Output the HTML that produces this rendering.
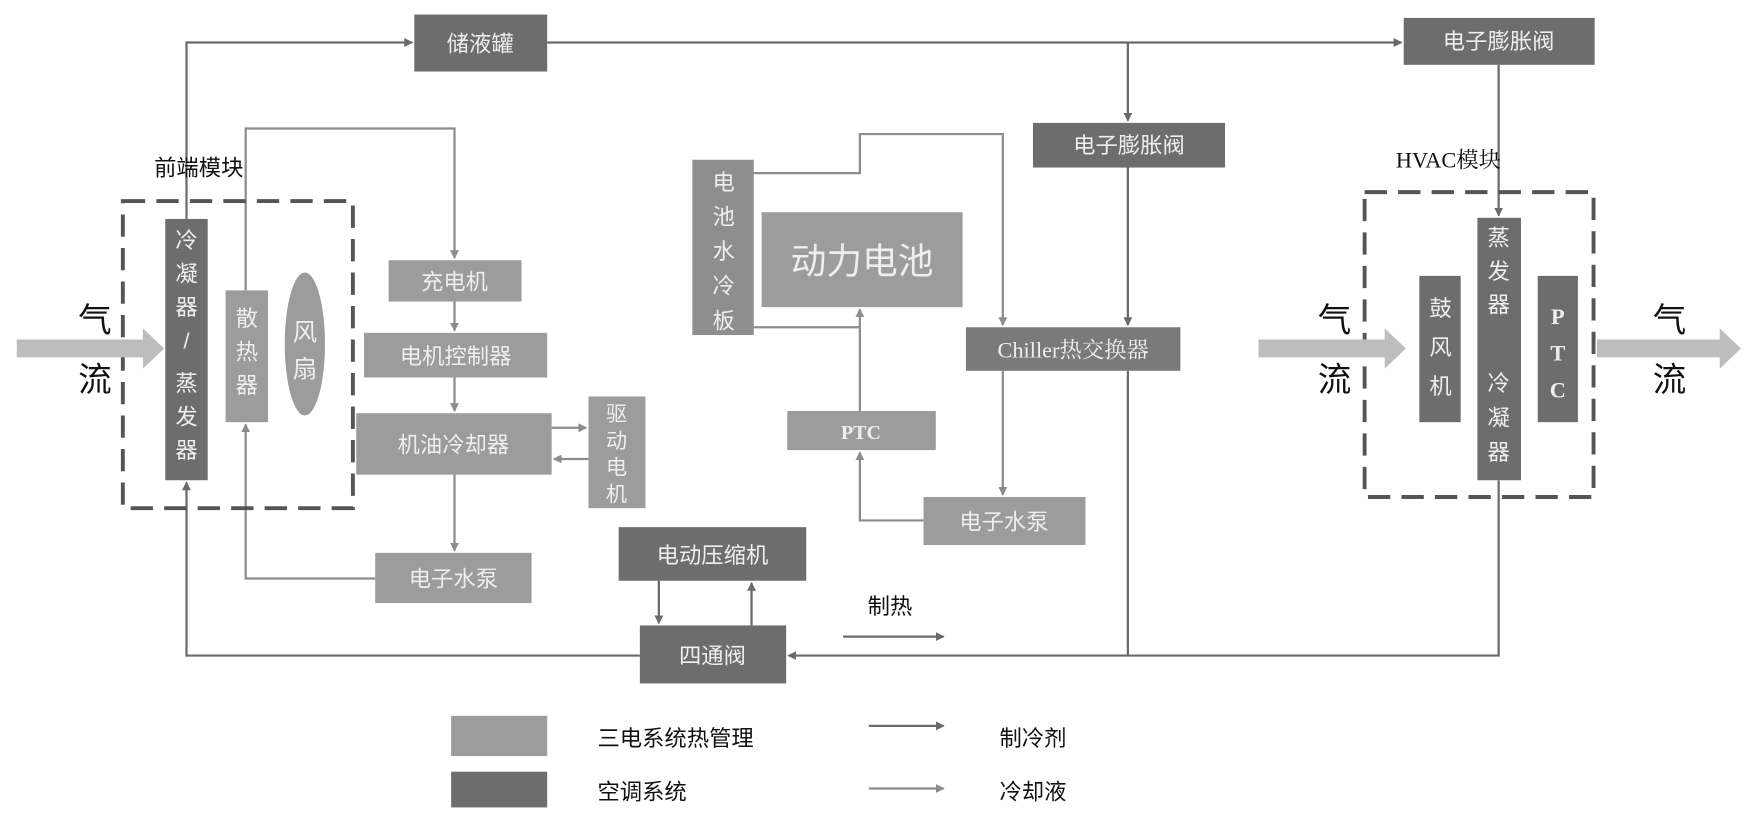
<!DOCTYPE html>
<html><head><meta charset="utf-8"><style>
html,body{margin:0;padding:0;background:#fff;}
svg{display:block;}
text{font-family:"Liberation Sans","Noto Sans CJK SC",sans-serif;}
.s{font-family:"Liberation Serif","Noto Serif CJK SC",serif;}
</style></head><body>
<svg width="1751" height="822" viewBox="0 0 1568 736" xmlns="http://www.w3.org/2000/svg">
<defs>
<marker id="ad" markerWidth="8" markerHeight="8" refX="7" refY="4" orient="auto" markerUnits="userSpaceOnUse"><path d="M0,0 L8,4 L0,8 z" fill="#6a6a6a"/></marker>
<marker id="al" markerWidth="8" markerHeight="8" refX="7" refY="4" orient="auto" markerUnits="userSpaceOnUse"><path d="M0,0 L8,4 L0,8 z" fill="#8c8c8c"/></marker>
</defs>
<g fill="none" stroke-width="2">
<g stroke="#6a6a6a">
<polyline points="167,196 167,38 369,38" marker-end="url(#ad)"/>
<line x1="490" y1="38" x2="1255" y2="38" marker-end="url(#ad)"/>
<line x1="1010" y1="38" x2="1010" y2="108" marker-end="url(#ad)"/>
<line x1="1010" y1="150" x2="1010" y2="291" marker-end="url(#ad)"/>
<line x1="1342" y1="58" x2="1342" y2="193" marker-end="url(#ad)"/>
<polyline points="573,587 167,587 167,432" marker-end="url(#ad)"/>
<polyline points="1342,430 1342,587 706,587" marker-end="url(#ad)"/>
<line x1="1010" y1="332" x2="1010" y2="587"/>
<line x1="590" y1="520" x2="590" y2="558" marker-end="url(#ad)"/>
<line x1="673" y1="560" x2="673" y2="522" marker-end="url(#ad)"/>
<line x1="755" y1="570" x2="845" y2="570" marker-end="url(#ad)"/>
<line x1="778" y1="650" x2="845" y2="650" marker-end="url(#ad)"/>
</g>
<g stroke="#8c8c8c">
<polyline points="220,260 220,115 407,115 407,231" marker-end="url(#al)"/>
<line x1="407" y1="270" x2="407" y2="296" marker-end="url(#al)"/>
<line x1="407" y1="338" x2="407" y2="368" marker-end="url(#al)"/>
<line x1="407" y1="425" x2="407" y2="493" marker-end="url(#al)"/>
<polyline points="336,518 220,518 220,380" marker-end="url(#al)"/>
<line x1="494" y1="383" x2="525" y2="383" marker-end="url(#al)"/>
<line x1="527" y1="411" x2="496" y2="411" marker-end="url(#al)"/>
<polyline points="675,155 770,155 770,120 898,120 898,291" marker-end="url(#al)"/>
<line x1="675" y1="293" x2="770" y2="293"/>
<line x1="770" y1="368" x2="770" y2="277" marker-end="url(#al)"/>
<polyline points="827,466 770,466 770,405" marker-end="url(#al)"/>
<line x1="898" y1="332" x2="898" y2="443" marker-end="url(#al)"/>
<line x1="778" y1="706" x2="845" y2="706" marker-end="url(#al)"/>
</g>
<rect x="110" y="180" width="206" height="275" stroke="#555" stroke-width="3.5" stroke-dasharray="20,10"/>
<rect x="1222" y="172" width="205" height="273" stroke="#555" stroke-width="3.5" stroke-dasharray="20,10"/>
</g>
<g fill="#bdbdbd">
<path d="M15,304 H128 V294 L147,312 L128,330 V320 H15 z"/>
<path d="M1127,304 H1240 V294 L1259,312 L1240,330 V320 H1127 z"/>
<path d="M1430,304 H1540 V294 L1559,312 L1540,330 V320 H1430 z"/>
</g>
<g font-size="30" fill="#111">
<text x="70" y="297">气</text><text x="70" y="350">流</text>
<text x="1180" y="297">气</text><text x="1180" y="350">流</text>
<text x="1480" y="297">气</text><text x="1480" y="350">流</text>
</g>
<g font-size="20" fill="#111">
<text x="138" y="157">前端模块</text>
<text x="1250" y="150" class="s">HVAC模块</text>
<text x="777" y="550">制热</text>
<text x="535" y="668">三电系统热管理</text>
<text x="535" y="716">空调系统</text>
<text x="895" y="668">制冷剂</text>
<text x="895" y="716">冷却液</text>
</g>
<g fill="#6d6d6d">
<rect x="371" y="13" width="119" height="51"/>
<rect x="1257" y="16" width="171" height="42"/>
<rect x="925" y="110" width="172" height="40"/>
<rect x="148" y="196" width="38" height="234"/>
<rect x="554" y="472" width="168" height="48"/>
<rect x="573" y="560" width="131" height="52"/>
<rect x="1271" y="247" width="37" height="131"/>
<rect x="1323" y="195" width="39" height="235"/>
<rect x="1377" y="247" width="36" height="131"/>
<rect x="865" y="293" width="192" height="39" fill="#7a7a7a"/>
<rect x="404" y="691" width="86" height="32"/>
</g>
<g fill="#9c9c9c">
<rect x="202" y="260" width="38" height="118"/>
<ellipse cx="273" cy="308" rx="18" ry="64"/>
<rect x="348" y="233" width="119" height="37"/>
<rect x="326" y="298" width="164" height="40"/>
<rect x="319" y="370" width="175" height="55"/>
<rect x="527" y="355" width="51" height="100"/>
<rect x="336" y="495" width="140" height="45"/>
<rect x="620" y="143" width="55" height="157" fill="#8e8e8e"/>
<rect x="682" y="190" width="180" height="85"/>
<rect x="705" y="368" width="133" height="35"/>
<rect x="827" y="445" width="145" height="43"/>
<rect x="404" y="641" width="86" height="36"/>
</g>
<g fill="#eeeeee" font-size="20" text-anchor="middle">
<text x="430" y="46">储液罐</text>
<text x="1342" y="44">电子膨胀阀</text>
<text x="1011" y="137">电子膨胀阀</text>
<text x="638" y="504">电动压缩机</text>
<text x="638" y="594">四通阀</text>
<text x="961" y="320" class="s">Chiller热交换器</text>
<text x="407" y="259">充电机</text>
<text x="408" y="326">电机控制器</text>
<text x="406" y="405">机油冷却器</text>
<text x="406" y="525">电子水泵</text>
<text x="771" y="393" class="s" font-weight="bold" font-size="18">PTC</text>
<text x="899" y="474">电子水泵</text>
<text x="772" y="245" font-size="32">动力电池</text>
</g>
<g fill="#eeeeee" font-size="20" text-anchor="middle">
<text x="167" y="222">冷</text><text x="167" y="252">凝</text><text x="167" y="282">器</text><text x="167" y="312">/</text><text x="167" y="350">蒸</text><text x="167" y="380">发</text><text x="167" y="410">器</text>
<text x="221" y="292">散</text><text x="221" y="322">热</text><text x="221" y="352">器</text>
<text x="273" y="305" font-size="22">风</text><text x="273" y="338" font-size="22">扇</text>
<text x="552" y="377" font-size="19">驱</text><text x="552" y="401" font-size="19">动</text><text x="552" y="425" font-size="19">电</text><text x="552" y="449" font-size="19">机</text>
<text x="648" y="170">电</text><text x="648" y="201">池</text><text x="648" y="232">水</text><text x="648" y="263">冷</text><text x="648" y="294">板</text>
<text x="1290" y="283">鼓</text><text x="1290" y="318">风</text><text x="1290" y="353">机</text>
<text x="1342" y="220">蒸</text><text x="1342" y="250">发</text><text x="1342" y="280">器</text>
<text x="1342" y="350">冷</text><text x="1342" y="381">凝</text><text x="1342" y="412">器</text>
<text x="1395" y="290" class="s" font-weight="bold">P</text><text x="1395" y="323" class="s" font-weight="bold">T</text><text x="1395" y="356" class="s" font-weight="bold">C</text>
</g>
</svg>
</body></html>
